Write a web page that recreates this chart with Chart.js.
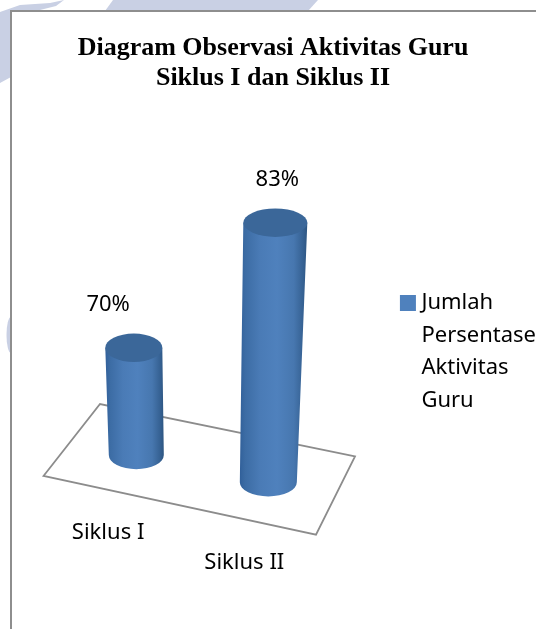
<!DOCTYPE html>
<html>
<head>
<meta charset="utf-8">
<style>
html,body{margin:0;padding:0;background:#fff;overflow:hidden;width:536px;height:629px}
#box{position:relative;width:546px;height:629px}
</style>
<script src="https://cdn.jsdelivr.net/npm/chart.js@4"></script>
</head>
<body>
<div id="box"><canvas id="c" width="546" height="629" style="display:block;width:546px;height:629px"></canvas></div>
<script>
const categories = ['Siklus I', 'Siklus II'];
const tickLabels = [['Siklus I'], ['', 'Siklus II']];
const seriesName = ['Jumlah', 'Persentase', 'Aktivitas', 'Guru'];
const seriesValues = [70, 83];
const titleLines = ['Diagram Observasi Aktivitas Guru', 'Siklus I dan Siklus II'];

// perspective styling of the 3D look
const FLOOR_SLOPE = 0.2;
const topDx = [25.7, 31], baseDx = [28.2, 24];
const topW = [57, 64], baseW = [55, 57];
const labelDx = [0, 33];
const WM = '#c9d0e4';

function poly(ctx, pts){ctx.beginPath();pts.forEach((p,i)=>i?ctx.lineTo(p[0],p[1]):ctx.moveTo(p[0],p[1]));ctx.closePath();}

const paper = {
  id:'paper',
  beforeDraw(chart){
    const ctx = chart.ctx;
    ctx.save();
    ctx.fillStyle = WM;
    poly(ctx,[[0,12],[20,5],[50,3],[64,0],[56,6],[40,10],[11,11],[11,77],[0,83]]);ctx.fill();
    poly(ctx,[[105,11],[113,0],[318,0],[308,11]]);ctx.fill();
    ctx.beginPath();ctx.ellipse(11,335,4.5,18,0,0,Math.PI*2);ctx.fill();
    ctx.fillStyle='#fff';ctx.fillRect(11,11,chart.width,chart.height);
    ctx.strokeStyle='#8e8e8e';ctx.lineWidth=2;
    ctx.beginPath();ctx.moveTo(11,chart.height);ctx.lineTo(11,11);ctx.lineTo(chart.width,11);ctx.stroke();
    ctx.restore();
  }
};

const cylinders = {
  id:'cylinders',
  beforeDatasetsDraw(chart){
    const ctx = chart.ctx, a = chart.chartArea, ys = chart.scales.y;
    const l=a.left, b=a.bottom;
    // floor plane, anchored on the plot area
    ctx.save();
    ctx.strokeStyle='#8c8c8c';ctx.lineWidth=1.8;ctx.lineJoin='miter';
    poly(ctx,[[l+3.5,b+21],[l+60,b-51],[l+315,b+1.3],[l+276,b+79.7]]);
    ctx.stroke();
    ctx.restore();

    const meta = chart.getDatasetMeta(0);
    const x0 = meta.data[0].x;
    const basePx = ys.getPixelForValue(ys.min);
    meta.data.forEach((el,i)=>{
      const drop = FLOOR_SLOPE*(el.x-x0);
      const tx = el.x+topDx[i], bx = el.x+baseDx[i];
      const ty = el.y+drop, by = basePx+drop;
      const tw = topW[i]/2, bw = baseW[i]/2;
      const ry = 14.2;
      const g = ctx.createLinearGradient(Math.min(tx-tw,bx-bw),0,Math.max(tx+tw,bx+bw),0);
      g.addColorStop(0,'#31609a');g.addColorStop(.08,'#3c6ca4');g.addColorStop(.3,'#4a7bb6');
      g.addColorStop(.55,'#4f81bd');g.addColorStop(.8,'#4777af');g.addColorStop(.95,'#345f90');g.addColorStop(1,'#2d5580');
      ctx.save();
      ctx.fillStyle=g;
      ctx.beginPath();
      ctx.moveTo(tx-tw,ty);
      ctx.lineTo(bx-bw,by);
      ctx.ellipse(bx,by,bw,ry,0,Math.PI,0,true);
      ctx.lineTo(tx+tw,ty);
      ctx.closePath();
      ctx.fill();
      ctx.fillStyle='#3b6799';
      ctx.beginPath();ctx.ellipse(tx,ty,tw,ry,0,0,Math.PI*2);ctx.fill();
      ctx.fillStyle='#000';
      ctx.font='22px "Noto Sans"';
      ctx.textAlign='center';ctx.textBaseline='middle';
      ctx.fillText(seriesValues[i]+'%',el.x+labelDx[i],ty-43);
      ctx.restore();
    });
    return false; // the cylinders replace the flat rectangles
  }
};

new Chart(document.getElementById('c'),{
  type:'bar',
  data:{labels:tickLabels,datasets:[{
    label:seriesName.join(' '),
    data:seriesValues,
    backgroundColor:'#4f81bd',
    barThickness:57
  }]},
  options:{
    responsive:false,animation:false,devicePixelRatio:1,
    layout:{padding:{left:0,top:33,right:0,bottom:0}},
    plugins:{
      title:{display:true,text:titleLines,color:'#000',
        font:{family:'"Liberation Serif"',size:26,weight:'bold',lineHeight:30/26},
        padding:{top:0,bottom:79}},
      legend:{position:'right',align:'center',maxWidth:220,
        title:{display:true,text:' ',padding:0,font:{size:20,lineHeight:2.6}},
        labels:{boxWidth:5,boxHeight:16,usePointStyle:true,pointStyle:'rect',color:'#000',padding:25,
          font:{family:'"Noto Sans"',size:22,lineHeight:32.5/22},
          generateLabels(chart){
            const item = Chart.defaults.plugins.legend.labels.generateLabels(chart)[0];
            item.text = seriesName;
            item.pointStyle = 'rect';
            item.lineWidth = 0;
            return [item];
          }}},
      tooltip:{enabled:false}
    },
    scales:{
      x:{grid:{display:false},border:{display:false},
        ticks:{color:'#000',padding:55,maxRotation:0,autoSkip:false,
          font:{family:'"Noto Sans"',size:22,lineHeight:30/22}},
        afterFit(s){s.height=174;}},
      y:{position:'left',min:60.85,max:85,grid:{display:false},border:{display:false},
        ticks:{display:false},afterFit(s){s.width=40;}},
      gap:{type:'linear',position:'right',grid:{display:false},border:{display:false},
        ticks:{display:false},afterFit(s){s.width=68;}}
    }
  },
  plugins:[paper,cylinders]
});
</script>
</body>
</html>
